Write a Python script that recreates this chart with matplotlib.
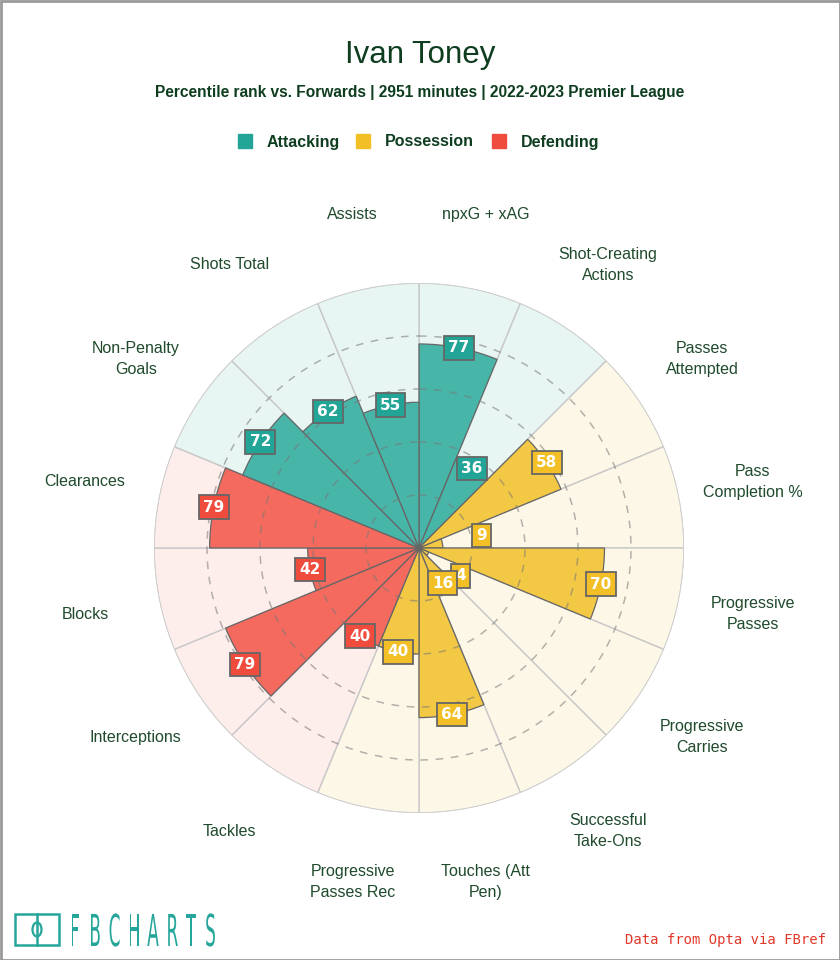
import matplotlib
matplotlib.use('Agg')
import matplotlib.pyplot as plt
import numpy as np
from matplotlib.patches import Rectangle, Ellipse, PathPatch
from matplotlib.textpath import TextPath
from matplotlib.font_manager import FontProperties
from matplotlib.transforms import Affine2D

plt.rcParams['font.family'] = ['Liberation Sans', 'DejaVu Sans']

# ---- data (clockwise from top) ----
params = ['npxG + xAG', 'Shot-Creating\nActions', 'Passes\nAttempted', 'Pass\nCompletion %',
          'Progressive\nPasses', 'Progressive\nCarries', 'Successful\nTake-Ons', 'Touches (Att\nPen)',
          'Progressive\nPasses Rec', 'Tackles', 'Interceptions', 'Blocks', 'Clearances',
          'Non-Penalty\nGoals', 'Shots Total', 'Assists']
values = [77, 36, 58, 9, 70, 4, 16, 64, 40, 40, 79, 42, 79, 72, 62, 55]
groups = ['Attacking', 'Attacking', 'Possession', 'Possession', 'Possession', 'Possession',
          'Possession', 'Possession', 'Possession', 'Defending', 'Defending', 'Defending',
          'Defending', 'Attacking', 'Attacking', 'Attacking']
legend_labels = ['Attacking', 'Possession', 'Defending']

# bar colour, label box colour, slice background
PAL = {
    'Attacking': ('#48b5a9', '#22a596', '#e7f5f3'),
    'Possession': ('#f3c844', '#f2c026', '#fdf7e8'),
    'Defending': ('#f46a5e', '#f04c3e', '#fdeeec'),
}
DARK = '#0f3d20'
TXT = '#1f4a2c'

W, H = 840, 960
fig = plt.figure(figsize=(8.4, 9.6), dpi=100, facecolor='white')

# overlay axes in pixel coords (y up)
ov = fig.add_axes([0, 0, 1, 1])
ov.set_xlim(0, W)
ov.set_ylim(0, H)
ov.axis('off')
Y = lambda y: H - y

# ---- polar pizza ----
cx, cy, R = 419, 548, 265
ax = fig.add_axes([(cx - R) / W, 1 - (cy + R) / H, 2 * R / W, 2 * R / H], projection='polar')
ax.set_theta_offset(np.pi / 2)
ax.set_theta_direction(-1)
ax.set_ylim(0, 100)
ax.axis('off')

n = len(params)
width = 2 * np.pi / n
theta = (np.arange(n) + 0.5) * width

ax.bar(theta, [100] * n, width=width, color=[PAL[g][2] for g in groups],
       edgecolor='#c8c8c8', linewidth=1, zorder=1)
ax.bar(theta, values, width=width, color=[PAL[g][0] for g in groups],
       edgecolor='#666666', linewidth=0.9, zorder=2)

t = np.linspace(0, 2 * np.pi, 500)
for r in [20, 40, 60, 80]:
    ax.plot(t, np.full_like(t, r), color='#777777', lw=1.1, ls=(0, (5, 5)), alpha=0.55, zorder=3)
ax.plot(t, np.full_like(t, 100), color='#d0d0d0', lw=1.2, zorder=3)

for th, v, g, p in zip(theta, values, groups, params):
    rl = v + 15 if v < 15 else v
    ax.text(th, rl, str(v), ha='center', va='center', color='white', fontsize=11,
            fontweight='bold', family='DejaVu Sans', zorder=6,
            bbox=dict(boxstyle='square,pad=0.28', fc=PAL[g][1], ec='#666666', lw=1.3))
    ax.text(th, 128.5, p, ha='center', va='center', color=TXT, fontsize=11.5,
            linespacing=1.5, clip_on=False)

# ---- titles ----
ov.text(W / 2, Y(55), 'Ivan Toney', ha='center', va='center', fontsize=22.5, color=DARK)
ov.text(W / 2, Y(93), 'Percentile rank vs. Forwards | 2951 minutes | 2022-2023 Premier League',
        ha='center', va='center', fontsize=11.2, fontweight='bold', color=DARK)

# legend
leg_x = [238, 356, 492]
for x, lab in zip(leg_x, legend_labels):
    ov.add_patch(Rectangle((x, Y(148)), 14, 14, color=PAL[lab][1]))
    ov.text(x + 29, Y(146.5), lab, ha='left', va='baseline', fontsize=11.5,
            fontweight='bold', color=DARK)

# ---- logo ----
TEAL = '#26a69a'
ov.add_patch(Rectangle((15, Y(945)), 44, 31, fill=False, ec=TEAL, lw=1.8))
ov.plot([37, 37], [Y(945), Y(914)], color=TEAL, lw=1.8)
ov.add_patch(Ellipse((37, Y(929.5)), 9, 14, fill=False, ec=TEAL, lw=1.6))
fp = FontProperties(family='DejaVu Sans', weight='normal')
for i, ch in enumerate('FBCHARTS'):
    tp = TextPath((0, 0), ch, size=1, prop=fp)
    tr = Affine2D().scale(17, 44).translate(70 + i * 19.3, Y(946))
    ov.add_patch(PathPatch(tr.transform_path(tp), fc=TEAL, ec='none'))

ov.text(826, Y(940), 'Data from Opta via FBref', ha='right', va='center',
        fontsize=10, family='DejaVu Sans Mono', color='#e0392b')

# frame
ov.add_patch(Rectangle((0.5, 0.5), W - 1, H - 1, fill=False, ec='#999999', lw=2))

fig.savefig('out.png', dpi=100, facecolor='white')
